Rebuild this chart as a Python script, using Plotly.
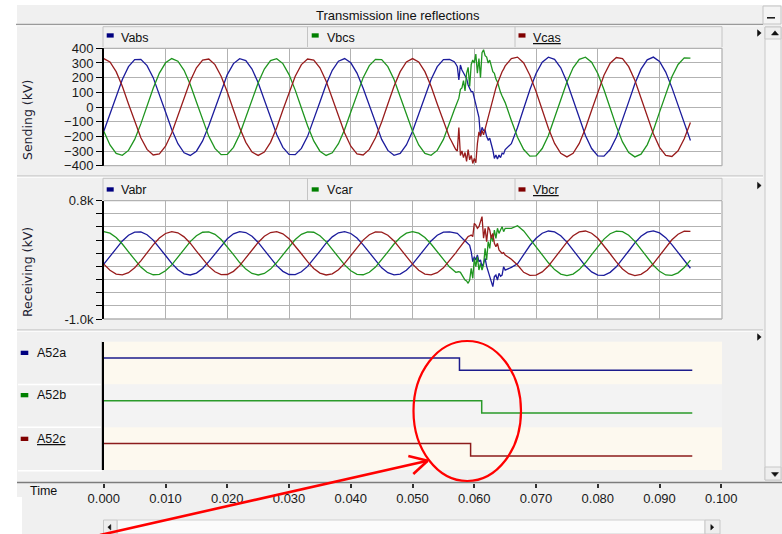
import plotly.graph_objects as go

# ---------------- data ----------------
# sample times in milliseconds: steady state before the fault, fine steps through
# the fault, steady state afterwards
T_PRE_MS = list(range(0, 56))
T_FAULT_MS = [56 + 0.25 * i for i in range(37)] + [66, 67, 68]
T_POST_MS = list(range(69, 96))

# steady-state line voltages (kV) before the fault
PRE_AB = [-165, -48, 75, 188, 275, 323, 325, 282, 200, 89, -34, -153, -250, -312, -330,
          -301, -231, -128, -7, 115, 221, 296, 329, 316, 259, 165, 48, -75, -188, -275,
          -323, -325, -282, -200, -89, 34, 153, 250, 312, 330, 301, 231, 128, 7, -115,
          -221, -296, -329, -316, -259, -165, -48, 75, 188, 275, 323]
PRE_BC = [-165, -259, -316, -329, -296, -221, -115, 7, 128, 231, 301, 330, 312, 250, 153,
          34, -89, -200, -282, -325, -323, -275, -188, -75, 48, 165, 259, 316, 329, 296,
          221, 115, -7, -128, -231, -301, -330, -312, -250, -153, -34, 89, 200, 282, 325,
          323, 275, 188, 75, -48, -165, -259, -316, -329, -296, -221]
PRE_CA = [330, 307, 241, 141, 21, -102, -210, -289, -327, -320, -267, -177, -62, 62, 177,
          267, 320, 327, 289, 210, 102, -21, -141, -241, -307, -330, -307, -241, -141, -21,
          102, 210, 289, 327, 320, 267, 177, 62, -62, -177, -267, -320, -327, -289, -210,
          -102, 21, 141, 241, 307, 330, 307, 241, 141, 21, -102]

# steady-state line voltages (kV) after the breakers open
POST_AB = [118, 228, 305, 339, 325, 267, 170, 49, -77, -194, -283, -333, -335, -290, -206,
           -92, 35, 158, 258, 321, 340, 310, 238, 132, 7, -118, -228]
POST_BC = [-335, -333, -283, -194, -77, 49, 170, 267, 325, 339, 305, 228, 118, -7, -132,
           -238, -310, -340, -321, -258, -158, -35, 92, 206, 290, 335, 333]
POST_CA = [216, 105, -22, -145, -248, -316, -340, -316, -248, -145, -22, 105, 216, 298, 337,
           330, 275, 182, 64, -64, -182, -275, -330, -337, -298, -216, -105]

# sending end during the fault (kV)
FAULT_VABS = [325, 320, 316, 309, 293, 275, 184, 286, 252, 230,
              218, 195, 150, 127, 105, 105, 59, 14, -32, -70,
              -200, -138, -160, -157, -202, -225, -213, -247, -293, -350,
              -327, -355, -327, -345, -315, -320, -290,
              -250, -140, -10]
FAULT_VBCS = [-115, -85, -50, -20, 7, 40, 60, 120, 130, 180,
              110, 230, 270, 140, 290, 320, 300, 360, 230, 330,
              200, 370, 390, 350, 340, 300, 320, 280, 240, 230,
              190, 170, 130, 100, 75, 50, 30,
              -92, -206, -290]
FAULT_VCAS = [-210, -228, -255, -270, -290, -300, -140, -330, -300, -345,
              -310, -370, -290, -360, -330, -385, -350, -380, -250, -170,
              -200, -160, -190, -150, -100, -60, -20, 20, 65, 95,
              130, 160, 190, 215, 240, 258, 280,
              330, 340, 300]

# receiving end during the fault (kV)
FAULT_VABR = [325, 320, 316, 305, 300, 303, 280, 253, 230, 210,
              190, 170, 145, 120, 24, -128, -52, -102, -26, -128,
              -102, -204, -153, -77, -200, -280, -331, -432, -508, -356,
              -331, -407, -305, -350, -331, -204, -255,
              -215, -160, -20]
FAULT_VBCR = [-115, -85, -55, -20, 7, 40, 70, 110, 135, 160,
              190, 225, 255, 265, 278, 253, 455, 430, 380, 405,
              480, 557, 230, 380, 177, 405, 354, 227, 303, 151,
              100, 151, 50, 20, -1, 10, -26,
              -90, -179, -290]
FAULT_VCAR = [-210, -228, -250, -270, -289, -285, -280, -290, -330, -381,
              -407, -422, -457, -407, -229, -381, -77, -204, -52, -255,
              -153, -255, -178, 75, -102, 177, 75, 278, 177, 354,
              227, 380, 303, 354, 405, 329, 380,
              380, 420, 340]

# breaker status (1 = closed, 0 = open)
A52A_T_MS, A52A_STATE = [0, 57.6, 95.3], [1, 0, 0]
A52B_T_MS, A52B_STATE = [0, 61.2, 95.3], [1, 0, 0]
A52C_T_MS, A52C_STATE = [0, 59.4, 95.3], [1, 0, 0]

SEND_NAMES = ["Vabs", "Vbcs", "Vcas"]
RECV_NAMES = ["Vabr", "Vcar", "Vbcr"]
BRK_NAMES = ["A52a", "A52b", "A52c"]

SEND_TICKS = [-400, -300, -200, -100, 0, 100, 200, 300, 400]
RECV_TICKS = [-1000, -800, -600, -400, -200, 0, 200, 400, 600, 800]
RECV_TICKTEXT = ["-1.0k", "", "", "", "", "", "", "", "", "0.8k"]
TIME_TICKS = [0.00, 0.01, 0.02, 0.03, 0.04, 0.05, 0.06, 0.07, 0.08, 0.09, 0.10]
TIME_TICKTEXT = ["0.000", "0.010", "0.020", "0.030", "0.040", "0.050",
                 "0.060", "0.070", "0.080", "0.090", "0.100"]
TITLE = "Transmission line reflections"

# ---------------- styling ----------------
W, H = 782, 534
FONT = "Liberation Sans"
BLUE, GREEN, RED = "#1c1c9c", "#1f951f", "#981c1c"
SQ_BLUE, SQ_GREEN, SQ_RED = "#000080", "#008000", "#800000"
GRID = "#b2b2b2"
PANEL = "#f0f0f0"

X0, X1 = 103.8, 721.3          # plot area left / right (px)
TOP = (48.3, 165.7)            # sending panel (px, top/bottom)
MID = (200.7, 319.0)           # receiving panel
BOT = (341.7, 470.0)           # breaker panel
TIME_AXIS_Y = 482.5


def px(x):
    return x / W


def py(y):
    return 1 - y / H


def ydom(span):
    return [py(span[1]), py(span[0])]


shapes = []


def rect(x0, y0, x1, y1, fill=None, line=None, lw=1.0, layer="below"):
    shapes.append(dict(type="rect", xref="paper", yref="paper",
                       x0=px(x0), x1=px(x1), y0=py(y1), y1=py(y0),
                       fillcolor=fill or "rgba(0,0,0,0)",
                       line=dict(color=line or "rgba(0,0,0,0)", width=lw if line else 0),
                       layer=layer))


def seg(x0, y0, x1, y1, color, lw=1.0, layer="below"):
    shapes.append(dict(type="line", xref="paper", yref="paper",
                       x0=px(x0), x1=px(x1), y0=py(y0), y1=py(y1),
                       line=dict(color=color, width=lw), layer=layer))


def tri(points, color, layer="above"):
    path = "M " + " L ".join(f"{px(a)},{py(b)}" for a, b in points) + " Z"
    shapes.append(dict(type="path", xref="paper", yref="paper", path=path,
                       fillcolor=color, line=dict(color=color, width=0.5), layer=layer))


# window frame
rect(17, 5, 782, 497, fill=PANEL)
rect(22, 497, 782, 534, fill=PANEL)
seg(16, 24.5, 763, 24.5, "#9a9a9a", 1.5)
seg(16, 25.8, 763, 25.8, "#ffffff", 1)
for ysep in (176.0, 330.0):
    seg(17, ysep, 763, ysep, "#b9b9b9", 1.2)
    seg(17, ysep + 1.2, 763, ysep + 1.2, "#ffffff", 1)

# minimise button and vertical scroll bar
rect(763, 6, 781, 24, fill="#f4f4f4", line="#c4c4c4")
seg(767, 17.8, 775, 17.8, "#202020", 1.6)
rect(765, 27, 781, 480, fill="#f6f6f6", line="#c8c8c8")
rect(765, 27, 781, 39, fill="#eeeeee", line="#c8c8c8")
rect(765, 467, 781, 480, fill="#eeeeee", line="#c8c8c8")
tri([(771.5, 35), (775, 30.8), (778.5, 35)], "#101010")
tri([(771.5, 472.6), (775, 476.6), (778.5, 472.6)], "#101010")

# small panel menu markers
for ym in (33.0, 185.5, 337.0):
    tri([(757.5, ym - 3.2), (761.2, ym), (757.5, ym + 3.2)], "#101010")

# horizontal scroll bar
rect(117, 520, 705, 534, fill="#fbfbfb", line="#d0d0d0")
rect(103.5, 520, 117, 534, fill="#eeeeee", line="#c8c8c8")
rect(705, 520, 720, 534, fill="#eeeeee", line="#c8c8c8")
tri([(110.8, 524.5), (107.8, 527.2), (110.8, 530)], "#101010")
tri([(710.8, 524.5), (713.8, 527.2), (710.8, 530)], "#101010")

# time axis rule
seg(17, TIME_AXIS_Y, 782, TIME_AXIS_Y, "#7c7c7c", 1.6)

# legend strips
for (ly0, ly1) in ((26.7, 47.0), (178.3, 200.0)):
    rect(103, ly0, 722, ly1, fill="#f1f1f1")
    seg(103, ly0, 722, ly0, "#c4c4c4", 1)
    for xd in (103, 307.5, 515, 722):
        seg(xd, ly0, xd, ly1, "#c4c4c4", 1)

# plot backgrounds
rect(X0, TOP[0], 722, TOP[1], fill="#ffffff")
rect(X0, MID[0], 722, MID[1], fill="#ffffff")
row_h = (BOT[1] - BOT[0]) / 3
row_fill = ["#fdf9ef", "#f3f3f3", "#fdf9ef"]
for i in range(3):
    rect(X0, BOT[0] + i * row_h, 722, BOT[0] + (i + 1) * row_h, fill=row_fill[i])
# breaker label column
rect(18, BOT[0], 102, BOT[1], fill="#f0f0f0")
for i in range(1, 3):
    seg(18, BOT[0] + i * row_h, 102, BOT[0] + i * row_h, "#ffffff", 1.5)
seg(18, BOT[1] + 0.8, 102, BOT[1] + 0.8, "#ffffff", 1.5)
seg(101.5, BOT[0], 101.5, BOT[1], "#c8c8c8", 1)

# plot frames (top, right, bottom edges)
for (t, b) in (TOP, MID):
    seg(X0, t, 722, t, GRID, 1.3, "above")
    seg(722, t, 722, b, GRID, 1.3, "above")
    seg(X0, b, 722, b, GRID, 1.3, "above")

# red highlight: ellipse and arrow
shapes.append(dict(type="circle", xref="paper", yref="paper",
                   x0=px(413.5), x1=px(521), y0=py(481), y1=py(341),
                   line=dict(color="#ff0000", width=2.2), layer="above"))
seg(100, 535, 427.7, 460.7, "#ff0000", 2.6, "above")
seg(427.7, 460.7, 408.3, 456.0, "#ff0000", 2.6, "above")
seg(427.7, 460.7, 413.3, 474.0, "#ff0000", 2.6, "above")

# ---------------- traces ----------------
t_all_s = [t / 1000 for t in T_PRE_MS + T_FAULT_MS + T_POST_MS]
send = {
    "Vabs": (PRE_AB + FAULT_VABS + POST_AB, BLUE),
    "Vbcs": (PRE_BC + FAULT_VBCS + POST_BC, GREEN),
    "Vcas": (PRE_CA + FAULT_VCAS + POST_CA, RED),
}
recv = {
    "Vabr": (PRE_AB + FAULT_VABR + POST_AB, BLUE),
    "Vcar": (PRE_CA + FAULT_VCAR + POST_CA, GREEN),
    "Vbcr": (PRE_BC + FAULT_VBCR + POST_BC, RED),
}

fig = go.Figure()
for name in SEND_NAMES:
    vals, col = send[name]
    fig.add_trace(go.Scatter(x=t_all_s, y=vals, mode="lines", name=name,
                             line=dict(color=col, width=1.3), xaxis="x", yaxis="y",
                             hoverinfo="skip", showlegend=False))
for name in RECV_NAMES:
    vals, col = recv[name]
    fig.add_trace(go.Scatter(x=t_all_s, y=vals, mode="lines", name=name,
                             line=dict(color=col, width=1.3), xaxis="x2", yaxis="y2",
                             hoverinfo="skip", showlegend=False))

LOW_OFF, SWING = 0.33, 0.29
breakers = [(A52A_T_MS, A52A_STATE, "#1c1c8c", 2),
            (A52B_T_MS, A52B_STATE, "#2a9a2a", 1),
            (A52C_T_MS, A52C_STATE, "#8c1c1c", 0)]
for name, (tms, st, col, base) in zip(BRK_NAMES, breakers):
    fig.add_trace(go.Scatter(x=[t / 1000 for t in tms],
                             y=[base + LOW_OFF + SWING * s for s in st],
                             mode="lines", line=dict(color=col, width=1.5, shape="hv"),
                             name=name, xaxis="x3", yaxis="y3",
                             hoverinfo="skip", showlegend=False))

# ---------------- annotations ----------------
ann = []


def text(x, y, s, size=12.5, color="#101010", xanchor="left", angle=0, family=FONT):
    ann.append(dict(x=px(x), y=py(y), xref="paper", yref="paper", text=s,
                    showarrow=False, xanchor=xanchor, yanchor="middle", textangle=angle,
                    font=dict(family=family, size=size, color=color)))


text(398, 15.5, TITLE, size=13, xanchor="center")

sq_cols = [SQ_BLUE, SQ_GREEN, SQ_RED]
cell_sq_x = [106.7, 311.7, 518.5]
cell_txt_x = [118.5, 324.5, 530.5]
for names, sq_y, txt_y in ((SEND_NAMES, 33.3, 38.0), (RECV_NAMES, 187.3, 190.0)):
    for i, nm in enumerate(names):
        rect(cell_sq_x[i], sq_y, cell_sq_x[i] + 7, sq_y + 4.3, fill=sq_cols[i], layer="above")
        label = f"<u>{nm}</u>" if i == 2 else nm
        text(cell_txt_x[i], txt_y, label)

brk_sq_y = [350.7, 393.0, 436.7]
brk_txt_y = [353.0, 395.3, 439.0]
for i, nm in enumerate(BRK_NAMES):
    rect(20.7, brk_sq_y[i], 28.3, brk_sq_y[i] + 4.3, fill=sq_cols[i], layer="above")
    label = f"<u>{nm}</u>" if i == 2 else nm
    text(34.5, brk_txt_y[i], label)

text(27.5, 120.5, "Sending (kV)", size=12.5, color="#202030", xanchor="center", angle=-90,
     family="DejaVu Sans")
text(27.5, 272.5, "Receiving (kV)", size=12.5, color="#202030", xanchor="center", angle=-90,
     family="DejaVu Sans")
text(28, 491, "Time", size=12.5)

# ---------------- layout ----------------
xdom = [px(X0), px(X1)]
tickfont = dict(family=FONT, size=13, color="#1a1a1a")
grid_x = dict(domain=xdom, range=[0, 0.1], showgrid=True, gridcolor=GRID, gridwidth=1.3,
              tick0=0, dtick=0.01, showticklabels=False, ticks="", zeroline=False,
              showline=False, fixedrange=True, automargin=False)

fig.update_layout(
    width=W, height=H,
    margin=dict(l=0, r=0, t=0, b=0, pad=0, autoexpand=False),
    paper_bgcolor="#ffffff",
    plot_bgcolor="rgba(0,0,0,0)",
    showlegend=False,
    xaxis=dict(anchor="y", **grid_x),
    xaxis2=dict(anchor="y2", **grid_x),
    xaxis3=dict(domain=xdom, range=[0, 0.1], anchor="free", position=py(TIME_AXIS_Y),
                showgrid=False, zeroline=False, showline=False, automargin=False,
                tickmode="array", tickvals=TIME_TICKS, ticktext=TIME_TICKTEXT,
                ticks="outside", ticklen=4, tickwidth=1.5, tickcolor="#303030",
                tickfont=tickfont, fixedrange=True),
    yaxis=dict(domain=ydom(TOP), range=[-400, 400], anchor="x", automargin=False,
               tickmode="array", tickvals=SEND_TICKS,
               ticks="outside", ticklen=6, tickcolor="#000000", tickwidth=1.2,
               showline=True, linecolor="#000000", linewidth=1.6,
               showgrid=True, gridcolor=GRID, gridwidth=1.3, zeroline=False,
               tickfont=tickfont, fixedrange=True),
    yaxis2=dict(domain=ydom(MID), range=[-1000, 800], anchor="x2", automargin=False,
                tickmode="array", tickvals=RECV_TICKS, ticktext=RECV_TICKTEXT,
                ticks="outside", ticklen=6, tickcolor="#000000", tickwidth=1.2,
                showline=True, linecolor="#000000", linewidth=1.6,
                showgrid=True, gridcolor=GRID, gridwidth=1.3, zeroline=False,
                tickfont=tickfont, fixedrange=True),
    yaxis3=dict(domain=ydom(BOT), range=[0, 3], anchor="x3", automargin=False,
                showgrid=False, zeroline=False, showticklabels=False, ticks="",
                showline=True, linecolor="#000000", linewidth=1.6, fixedrange=True),
    shapes=shapes,
    annotations=ann,
)

# page body without the default browser margin so the figure fills the window
fig.write_html("out.html", config={"displayModeBar": False},
               post_script="document.body.style.margin='0';"
                           "document.body.style.overflow='hidden';")
